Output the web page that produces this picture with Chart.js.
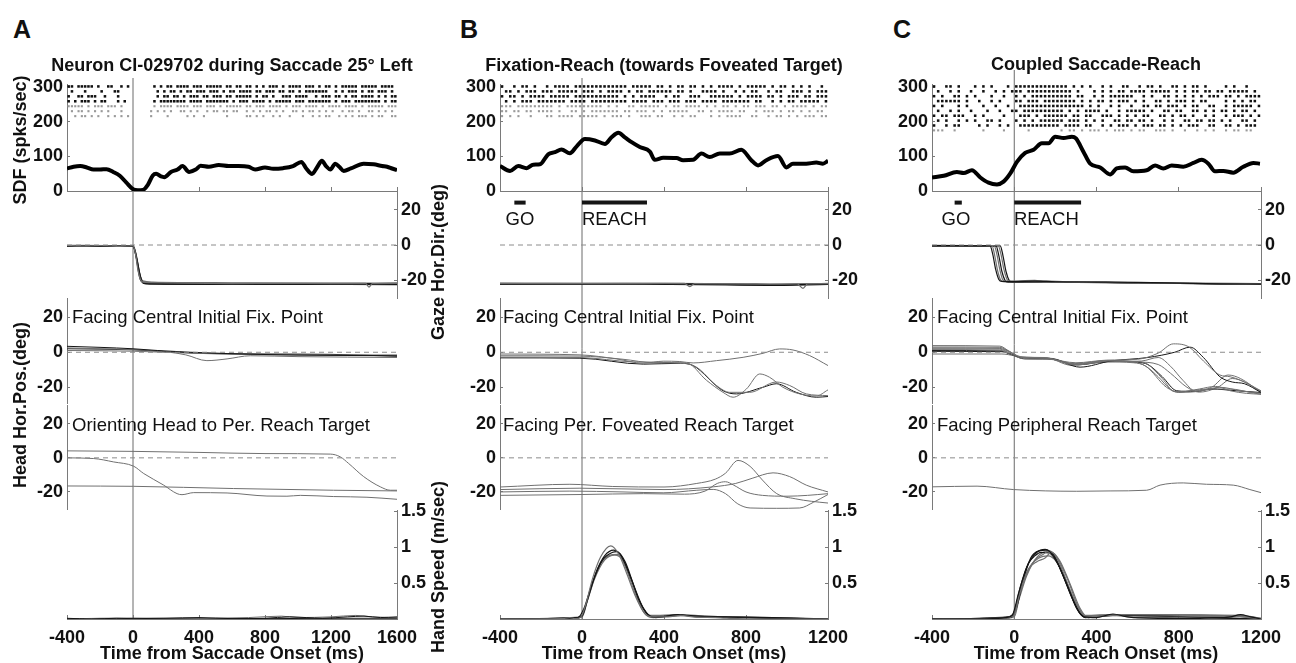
<!DOCTYPE html>
<html>
<head>
<meta charset="utf-8">
<script src="https://cdn.jsdelivr.net/npm/chart.js@4.4.1/dist/chart.umd.min.js"></script>
<style>
  body { margin: 0; background: #fff; width: 1296px; height: 663px; position: relative; overflow: hidden;
         font-family: "Liberation Sans", Arial, sans-serif; color: #111; }
  canvas { position: absolute; }
  .lbl { position: absolute; white-space: nowrap; line-height: 1; }
</style>
</head>
<body>
<script>
// ---- data (time in ms) ----
const xTicksA = [-400, 0, 400, 800, 1200, 1600];
const xTicksBC = [-400, 0, 400, 800, 1200];
const sdfTicks = [0, 100, 200, 300];
const degTicks = [-20, 0, 20];
const speedTicks = [0.5, 1, 1.5];

// spike density functions [t, spks/s]
const sdfA = [[-400,65],[-360,70],[-320,72],[-280,68],[-240,62],[-200,62],[-160,63],[-120,55],[-80,44],[-40,24],[0,5],[30,2],[60,3],[90,18],[120,45],[140,50],[170,42],[190,40],[230,55],[270,62],[300,72],[340,55],[380,62],[410,73],[460,70],[520,75],[580,72],[640,72],[700,70],[740,62],[800,68],[850,64],[910,66],[970,72],[1020,84],[1050,65],[1085,49],[1115,68],[1145,87],[1170,72],[1196,62],[1226,79],[1250,70],[1277,58],[1320,65],[1398,79],[1458,77],[1510,72],[1540,70],[1570,65],[1600,60]];
const sdfB = [[-400,72],[-351,58],[-311,72],[-270,66],[-238,76],[-205,77],[-165,106],[-132,112],[-100,120],[-59,109],[-26,129],[14,150],[63,146],[112,136],[144,155],[177,168],[209,155],[242,141],[282,127],[331,114],[355,90],[396,96],[461,95],[493,89],[542,90],[583,108],[623,98],[672,108],[720,108],[777,119],[826,89],[859,74],[899,89],[956,101],[997,68],[1029,79],[1094,79],[1143,82],[1175,79],[1200,87]];
const sdfC = [[-400,39],[-343,44],[-279,55],[-246,52],[-206,60],[-165,39],[-125,24],[-84,19],[-52,27],[-20,50],[13,84],[53,110],[94,119],[134,138],[167,138],[199,157],[240,153],[280,157],[300,152],[335,115],[369,79],[418,68],[466,48],[498,65],[539,68],[579,57],[644,60],[685,74],[725,65],[766,74],[822,70],[871,81],[911,90],[944,79],[976,57],[1017,58],[1065,53],[1114,70],[1163,81],[1195,79]];

// rasters: one string per trial, one char per 20 ms bin from -400 ms ('x' = spike)
const rasterA = [
  "xx.xxxxx.x ..xx..x.x. ......x.x. xx.xxxx.xx x.xxxxx.xx .xx.xx.x.x .xxx.x.xxx x.xxx.x.xx .x.xxxxx.x xxxx.xxxx.",
  ".x...x.... x...xx.... .......x.x .xx.x.xx.x xx.xxx.x.x x.xxxx.xx. xxx.xx.xx. x.xxxxxxx. .x.x.xxx.x .xx.xxx.x.",
  "x..xx.xxx. .x...x.... .......x.x x.xx.x.xxx .xx.xxx.xx .xxxxx.x.x x.x..xxx.x xxx..x.xxx .xx.x.xx.x xxx.x.x.xx",
  "x.x.xxx.x. xx...x.x.. ......x.xx xxxxxx.xxx x.xxxxxxx. x.xxx.xxxx .x.xxxxx.x xx.xxxxxxx .x.xxx.xxx xxxxx.x.xx",
  "xxxxx.x.xx x.xxx.x... ......x.xx xx.xxxx.xx x.xxx.x.xx xxx.xx.xxx .xxxx.x.xx x.xxxx.x.x xxx.xxxx.x .xxxxx.xxx",
  ".x.xx.x.x. x.x...x... .....x.x.x .x..xx.x.x ..x.xx.xx. xx..x.x.x. xx.x.x..xx .x.xx.x.x. x..x.xx.x. .xx.x.x.x.",
  "..x.xx.x.x ..x.x.x.x. .....x.... x.....x.x. .x......x. ....xx.x.x ..x.x..x.. .x..x.x.xx ..x.x.x.xx x.x.xx..xx"
];
const rasterB = [
  "x..x.xx.x. .x.xxxx.xx xxxxxxxxxx x.xxxxx.xx .x.xx.xx.x .x.xxxx.x. xxxxx.x.xx .x.x.x..x.",
  ".xx.x.xxx. xxx.xxxxx. xxx.x.xxxx .x.xx.xxxx xx.xx.x..x xxx.x..x.x .xx..x.xx. .xxx.x.xxx",
  "x.xx.x.xxx x.xxxxx.xx xxxxxxxxx. x.x.xxxx.. x.xx..xxx. .xxxxxx.x. xxxx.xx.x. xxx.xx.xxx",
  ".x.x.xxx.x xxxxxx.xxx x.xxxxxxxx x.xxxx.xxx .xxx.xxx.x xxx.xxxxxx x.xx..x.x. xx.xxxxx.x",
  "xxx.xxxxxx xxx.x.xxxx xxxxx.x.x. .xx.xxxxx. x.xx.xxxx. x.x.xx.x.x x.xxx.xx.x .xxxx.x.xx",
  "xx.xx.xx.x xxx.x..xx. x.xxxxxxx. xx.xxx.x.x .xxxxx..xx .x.xxxx.xx ..x.xxx.x. xx.x.x.xx.",
  "x.x.x..x.. .xx.xxxx.x xxxx.x.xxx .x..xxx.xx ..x.x.xx.. .x.x.xxxx. .xx..x.xx. x.x.xxx.xx"
];
const rasterC = [
  "x..xx.x... x.x.x...x. xxxxxxxxxx xxx.x.x.x. .x.x..xx.. x.xx.x..xx .x.xx.x... .x.x..x...",
  ".x..x.x..x ..x..x.x.x xx.xxxxxxx xxxx.x...x .x.x.xx.xx xx.xxxxx.x .x.xx.xx.x x.xxxxx.x.",
  "x.x..xx.x. x...x..x.. x.x.xxxxxx xxxx.xx..x .x.xxxxxx. .x.x..xx.x .x.x.x.xxx .xx.x.xxxx",
  ".xxxxxx.x. .x..x.x... xx.xxx.xxx xxxxx.x.x. xx.x.xxx.x .x..xx.x.x xx.x.xx... .x.x.x.xx.",
  "x.x...x.x. ..x..x..x. .xxxxxxxxx xxxxxxx.x. x..x.x..x. .xx.xx.xxx .x.xx..xx. .x.xxxxx.x",
  ".x..x.x..x ...x..x..x x.xxxxxxxx xx.x.x.xxx x.x..x.xxx xx.x..xx.x x..xx.x.x. xx.x.xx.x.",
  "x.xx.xxx.. x.x....x.. .xxx.x.xxx xxx.xx.xx. .xxx.x.x.x .xx..xx.x. xx.x..x.x. .x.xxx.x.x",
  ".x.x..x.x. x..xx.x... x.x.x.xxxx xx.xxx.x.x .x..xx.xx. xx.x..x.x. .xx.xx.xx. x.x..xx.x.",
  "x..x.xx... .x.x..x.x. .xxxxxxxxx x.xxxx.xx. .x.x.xxx.x .xxx.xx.x. x.xxx..xx. .xx.x.xxx.",
  "xxx..x.... ..x....x.. ...x...... .x.xx.x.xx x.x.xxx.x. xx..xxx.x. .x..x.x.x. .x.xx.xx.."
];

// gaze horizontal direction [t, deg]
const gazeA = [
  [[-400,-0.3],[-300,-0.6],[-200,-0.4],[-100,-0.7],[0,-0.5],[15,-5],[30,-14],[45,-19.5],[60,-21],[100,-21.3],[300,-21.6],[600,-21.8],[900,-21.7],[1200,-21.8],[1410,-21.8],[1430,-23.8],[1450,-21.9],[1600,-21.7]],
  [[-400,-0.6],[-200,-0.8],[0,-0.6],[20,-7],[35,-16],[50,-20.5],[70,-21.5],[400,-22],[800,-22.1],[1200,-22],[1600,-22.2]],
  [[-400,-0.8],[-200,-0.5],[0,-0.8],[25,-9],[45,-18],[65,-21.8],[100,-22.2],[500,-22.3],[1000,-22.1],[1600,-22]],
  [[-400,-0.2],[-150,-0.4],[0,-0.3],[15,-4],[30,-12],[45,-18.5],[60,-20.3],[120,-21],[600,-21.4],[1200,-21.6],[1600,-21.5]],
  [[-400,-0.5],[0,-0.4],[20,-6],[40,-16],[55,-20.5],[80,-21.7],[700,-22],[1600,-22.4]]
];
const gazeB = [
  [[-400,-21.8],[0,-21.9],[400,-21.7],[500,-21.8],[526,-23.5],[550,-21.9],[900,-22.2],[1050,-22],[1078,-24.5],[1100,-22],[1200,-21.9]],
  [[-400,-22.1],[300,-22.2],[700,-22.6],[900,-22.8],[1200,-22.3]],
  [[-400,-22.3],[400,-22],[800,-22.4],[1200,-22.1]],
  [[-400,-21.6],[300,-21.7],[850,-22],[950,-22.6],[1200,-21.8]]
];
const gazeC = [
  [[-400,-0.3],[-200,-0.5],[-118,-0.4],[-105,-5],[-90,-14],[-75,-19.5],[-60,-20.6],[0,-20.7],[100,-20.4],[200,-20.8],[400,-21],[600,-21.2],[800,-21.6],[1000,-22],[1200,-22.1]],
  [[-400,-0.5],[-200,-0.6],[-108,-0.5],[-95,-6],[-80,-15],[-65,-20],[-50,-20.8],[0,-20.9],[200,-21],[500,-21.2],[800,-21.8],[1200,-22.3]],
  [[-400,-0.2],[-98,-0.4],[-85,-5],[-70,-14],[-55,-19.8],[-40,-20.5],[100,-20],[150,-20.8],[400,-21.2],[900,-21.8],[1200,-22]],
  [[-400,-0.6],[-88,-0.6],[-75,-6],[-60,-15],[-45,-20],[-30,-21],[200,-20.8],[600,-21.5],[1200,-22.2]],
  [[-400,-0.4],[-78,-0.5],[-65,-5],[-50,-14],[-35,-19.5],[-20,-20.6],[80,-20.2],[300,-21],[1200,-21.8]],
  [[-400,-0.5],[-68,-0.5],[-55,-6],[-40,-15],[-25,-20],[-10,-21],[300,-21.2],[700,-21.5],[1200,-22.2]]
];

// GO / REACH epochs [start, end] in ms
const goB = [-330, -275], reachB = [0, 317];
const goC = [-290, -255], reachC = [0, 325];

// head horizontal position, facing central point [t, deg]
const headCenA = [
  [[-400,3.4],[-200,2.8],[0,2],[150,1],[350,0],[800,-1.3],[1200,-1.8],[1600,-2]],
  [[-400,2.5],[-200,2],[0,1.5],[200,0.3],[320,-1.5],[448,-4.8],[570,-3.8],[711,-2],[1000,-2.5],[1600,-3]],
  [[-400,1],[0,0.6],[300,-0.4],[700,-1.3],[1200,-1.6],[1600,-1.5]],
  [[-400,2],[0,1.4],[400,-0.6],[800,-1.0],[1200,-1.2],[1600,-2.3]]
];
const headCenB = [
  [[-400,-1],[-10,-1.5],[168,-3.8],[298,-6.3],[396,-5.1],[477,-5.3],[542,-6.1],[656,-4.8],[786,-2.9],[883,-0.6],[964,1.9],[1029,1.3],[1110,-1.9],[1200,-7.6]],
  [[-400,-2],[-10,-2.2],[200,-4],[350,-6],[509,-6.1],[607,-16],[688,-22.9],[737,-25.7],[802,-21],[867,-12.4],[915,-14.3],[980,-20],[1062,-23.8],[1143,-25],[1200,-21.5]],
  [[-400,-2.8],[-10,-3],[250,-5.5],[450,-6],[558,-8.5],[656,-19],[721,-22.9],[818,-22.9],[948,-17],[1013,-19],[1094,-23.8],[1200,-24.8]],
  [[-400,-3.2],[-10,-3.4],[300,-6.8],[480,-6.3],[542,-7.6],[688,-22],[753,-23.8],[883,-20],[948,-18],[1045,-22.9],[1143,-25.7],[1200,-25.3]]
];
const headCenC = [
  [[-400,3.8],[-70,3.5],[-30,1],[30,-2.5],[150,-3.2],[300,-6.8],[450,-5],[580,-5.5],[640,-8],[700,-14],[758,-21],[800,-23],[900,-22.2],[1000,-20],[1100,-22],[1200,-23.5]],
  [[-400,2.5],[-70,2.2],[-20,0],[40,-3],[160,-3.5],[290,-7],[460,-4.8],[590,-5.2],[650,-7],[720,-15],[780,-22.5],[850,-22],[950,-21],[1050,-21],[1150,-23],[1200,-24]],
  [[-400,1.5],[-70,1.2],[-20,-1],[40,-3.5],[170,-4],[300,-6],[450,-4.5],[600,-4],[700,-0.5],[774,4.8],[850,3],[920,-5],[1000,-13],[1050,-14],[1100,-16],[1200,-22]],
  [[-400,0.5],[-60,0.3],[-10,-1.5],[50,-3.8],[180,-3.8],[320,-8.5],[470,-5],[650,-3],[780,0],[855,2.9],[920,-3],[1000,-14],[1060,-17],[1120,-18],[1200,-23]],
  [[-400,3],[-70,2.8],[-25,0.5],[30,-2.8],[150,-3],[280,-7.5],[440,-5.5],[580,-6],[640,-8],[740,-20],[800,-22.8],[900,-21],[980,-19.5],[1050,-22],[1130,-23.5],[1200,-24]],
  [[-400,-1],[-60,-1],[0,-2],[60,-3.5],[170,-3.4],[300,-7],[450,-5.5],[620,-5],[700,-3],[760,-8],[820,-16],[880,-22],[960,-20],[1040,-13],[1100,-15],[1200,-23]],
  [[-400,1],[-65,0.8],[-15,-1.2],[45,-3.2],[160,-3.6],[310,-7.2],[460,-5.2],[600,-5.8],[650,-7],[720,-14],[790,-22],[880,-22.5],[960,-21],[1080,-22],[1200,-23]],
  [[-400,2],[-70,1.8],[-20,-0.5],[35,-3],[150,-3.3],[295,-6.5],[450,-4.8],[600,-5.5],[700,-7],[760,-12],[840,-20],[900,-22.8],[990,-20],[1060,-15],[1120,-17],[1200,-22.5]]
];

// head horizontal position, facing peripheral target [t, deg]
const headPerA = [
  [[-400,4.1],[0,3.8],[400,3.2],[800,2.5],[1196,2.2],[1256,0.6],[1307,-3.3],[1398,-11],[1499,-17],[1560,-19],[1600,-19]],
  [[-400,0],[-238,-0.4],[-117,-2.4],[4,-4.9],[65,-9.2],[186,-16],[267,-21],[297,-21.6],[368,-20.4],[570,-20.6],[812,-22.4],[933,-22.5],[1014,-22],[1216,-22.7],[1418,-23.1],[1600,-24.3]],
  [[-400,-16.5],[4,-16.7],[610,-18],[1216,-19],[1600,-19.4]]
];
const headPerB = [
  [[-400,-17.1],[-59,-15.5],[150,-16.8],[400,-17.1],[560,-15],[650,-12.5],[700,-9],[761,-1.5],[820,-5],[880,-13],[950,-21],[1040,-24],[1120,-25.5],[1200,-26.5]],
  [[-400,-18.6],[-10,-17.8],[400,-18.6],[640,-17],[750,-15],[830,-12],[932,-8.8],[1013,-11],[1094,-16],[1200,-20]],
  [[-400,-20],[-59,-19.5],[200,-20],[396,-20.5],[560,-19],[640,-18.5],[700,-21],[760,-27],[820,-29.4],[950,-29.6],[1062,-29.4],[1130,-26],[1200,-21.5]],
  [[-400,-22],[0,-21.5],[300,-21],[500,-21.3],[600,-19.5],[660,-15],[700,-14],[740,-16],[800,-20],[880,-22],[1000,-22.5],[1100,-22],[1200,-21]]
];
const headPerC = [
  [[-400,-17],[-181,-16.6],[-3,-18.6],[304,-19.6],[466,-19.4],[644,-19],[709,-16],[822,-14.7],[935,-15.5],[1065,-16],[1146,-18.6],[1200,-20.4]]
];

// hand speed [t, m/s]
const speedA = [
  [[-400,0.01],[-250,0],[-100,0.01],[0,0.005],[200,0.01],[400,0.02],[600,0.005],[800,0.01],[950,0.03],[1050,0.02],[1150,0.01],[1300,0.03],[1400,0.04],[1500,0.02],[1600,0.03]],
  [[-400,0],[-200,0.01],[0,0.01],[300,0],[500,0.01],[700,0.02],[900,0.04],[1000,0.02],[1200,0.03],[1350,0.05],[1450,0.03],[1600,0.02]],
  [[-400,0.005],[0,0.01],[400,0.01],[800,0.005],[1200,0.01],[1600,0.01]]
];
const speedB = [
  [[-400,0],[-100,0.005],[-60,0.02],[-30,0.005],[-5,0.03],[20,0.22],[50,0.55],[90,0.86],[140,1.02],[180,0.9],[220,0.62],[260,0.32],[300,0.1],[340,0.03],[420,0.03],[480,0.05],[540,0.03],[650,0.02],[800,0],[1200,0]],
  [[-400,0],[-50,0.01],[0,0.04],[30,0.3],[70,0.66],[110,0.88],[155,0.96],[195,0.86],[240,0.56],[280,0.25],[320,0.06],[360,0.02],[470,0.06],[560,0.03],[700,0.03],[1200,0]],
  [[-400,0],[-20,0.02],[10,0.15],[50,0.5],[100,0.82],[150,0.93],[170,0.94],[210,0.8],[255,0.45],[300,0.15],[345,0.03],[500,0.05],[620,0.03],[1200,0]],
  [[-400,0],[-10,0.02],[20,0.2],[60,0.55],[110,0.82],[160,0.89],[200,0.82],[240,0.55],[285,0.22],[330,0.05],[480,0.06],[600,0.04],[720,0.03],[1200,0]],
  [[-400,0],[0,0.03],[30,0.3],[80,0.72],[130,0.88],[175,0.9],[215,0.7],[260,0.35],[305,0.08],[350,0.02],[450,0.05],[700,0.03],[1200,0]]
];
const speedC = [
  [[-400,0],[-100,0.005],[-40,0.02],[-10,0.05],[20,0.35],[60,0.72],[110,0.93],[150,0.97],[200,0.84],[250,0.52],[300,0.18],[340,0.03],[400,0.02],[480,0.07],[550,0.03],[700,0.01],[900,0.01],[1050,0.03],[1100,0.06],[1150,0.03],[1200,0]],
  [[-400,0],[-60,0.01],[-10,0.04],[20,0.3],[60,0.62],[100,0.82],[140,0.9],[170,0.95],[210,0.85],[260,0.55],[310,0.18],[350,0.03],[480,0.05],[600,0.02],[1100,0.04],[1200,0.01]],
  [[-400,0],[-50,0.01],[0,0.06],[30,0.4],[70,0.7],[110,0.8],[150,0.85],[180,0.93],[220,0.82],[270,0.5],[320,0.15],[360,0.02],[490,0.06],[1100,0.03],[1200,0]],
  [[-400,0],[-20,0.02],[10,0.15],[40,0.5],[80,0.85],[120,0.95],[155,0.96],[190,0.9],[235,0.62],[280,0.3],[320,0.08],[360,0.02],[500,0.05],[1200,0]],
  [[-400,0],[-30,0.03],[0,0.1],[30,0.45],[70,0.78],[100,0.88],[130,0.93],[170,0.92],[215,0.75],[260,0.45],[305,0.14],[345,0.02],[470,0.05],[1200,0]],
  [[-400,0],[-10,0.02],[20,0.25],[60,0.6],[110,0.86],[160,0.94],[200,0.88],[245,0.6],[290,0.25],[330,0.05],[460,0.06],[1080,0.04],[1200,0]],
  [[-400,0],[0,0.03],[30,0.38],[70,0.7],[120,0.85],[165,0.88],[205,0.8],[250,0.55],[300,0.22],[345,0.04],[500,0.06],[1100,0.05],[1200,0.01]]
];

// ---- drawing ----
Chart.defaults.font.family = '"Liberation Sans", Arial, sans-serif';
const AXIS = '#7a7a7a';
const GREY = '#707070';
const DARK = '#151515';
const AXW = 50, XH = 44, M = 16;

// plot-area pixel boxes
const cols = [
  { x0: 67, x1: 397, xMax: 1600, xTicks: xTicksA, vTop: 78 },
  { x0: 500, x1: 828, xMax: 1200, xTicks: xTicksBC, vTop: 78 },
  { x0: 932, x1: 1261, xMax: 1200, xTicks: xTicksBC, vTop: 70 }
];
const rows = {
  sdf:   { y0: 84,  y1: 191, min: 0,   max: 309 },
  gaze:  { y0: 192, y1: 298, min: -30, max: 30 },
  headC: { y0: 298, y1: 403, min: -29, max: 31 },
  headP: { y0: 405, y1: 509, min: -30, max: 31 },
  speed: { y0: 510, y1: 619, min: 0,   max: 1.52 }
};

function line(pts, color, width) {
  return {
    data: pts.map(([x, y]) => ({ x, y })),
    borderColor: color, borderWidth: width || 1, pointRadius: 0,
    cubicInterpolationMode: 'monotone', fill: false
  };
}
function zeroLine(xMax) {
  return { data: [{ x: -400, y: 0 }, { x: xMax, y: 0 }], borderColor: '#8c8c8c',
           borderWidth: 1, borderDash: [5, 4], pointRadius: 0 };
}
function bar(span, y) {
  return { data: [{ x: span[0], y }, { x: span[1], y }], borderColor: DARK, borderWidth: 4,
           pointRadius: 0, borderCapStyle: 'butt' };
}
function raster(strs, yTop, yStep, nBlack) {
  return strs.map((s, r) => {
    const pts = [];
    s.replace(/ /g, '').split('').forEach((c, i) => {
      if (c === 'x') pts.push({ x: -400 + i * 20 + 10, y: yTop - r * yStep });
    });
    const black = r < nBlack;
    return { data: pts, showLine: false, pointStyle: 'rect', borderWidth: 0,
             pointRadius: black ? 1.8 : 1.5, backgroundColor: black ? '#111' : '#9a9a9a' };
  });
}

function addChart(col, row, yPos, yTicks, xMode, datasets) {
  const canvas = document.createElement('canvas');
  const bottomM = xMode === 'labels' ? XH : M;
  canvas.width = col.x1 - col.x0 + 2 * AXW;
  canvas.height = row.y1 - row.y0 + M + bottomM;
  canvas.style.left = (col.x0 - AXW) + 'px';
  canvas.style.top = (row.y0 - M) + 'px';
  document.body.appendChild(canvas);
  const font = { size: 18, weight: 'bold' };
  const noPad = s => { s.paddingLeft = 0; s.paddingRight = 0; s.paddingTop = 0; s.paddingBottom = 0; };
  new Chart(canvas, {
    type: 'line',
    data: { datasets },
    options: {
      responsive: false, animation: false, devicePixelRatio: 1,
      layout: { padding: {
        left: yPos === 'left' ? 0 : AXW, right: yPos === 'right' ? 0 : AXW,
        top: M, bottom: xMode === 'labels' ? 0 : M } },
      plugins: { legend: { display: false }, tooltip: { enabled: false } },
      scales: {
        x: {
          type: 'linear', min: -400, max: col.xMax, display: !!xMode,
          afterFit: s => { s.height = xMode === 'labels' ? XH : 0; noPad(s); },
          afterBuildTicks: s => { s.ticks = col.xTicks.map(v => ({ value: v })); },
          border: { display: true, color: AXIS, width: 1 },
          grid: { drawOnChartArea: false, tickLength: -4, color: AXIS },
          ticks: { display: xMode === 'labels', padding: 12, color: '#111', font, maxRotation: 0,
                   callback: v => String(v) }
        },
        y: {
          type: 'linear', min: row.min, max: row.max, position: yPos || 'left', display: !!yPos,
          afterFit: s => { s.width = yPos ? AXW : 0; noPad(s); },
          afterBuildTicks: s => { s.ticks = (yTicks || []).map(v => ({ value: v })); },
          border: { display: true, color: AXIS, width: 1 },
          grid: { drawOnChartArea: false, tickLength: -3, color: AXIS },
          ticks: { padding: 7, color: '#111', font, callback: v => String(v) }
        }
      }
    }
  });
}

function addOnsetLine(col) {
  addChart(col, { y0: col.vTop, y1: 619, min: 0, max: 1 }, null, null, null,
    [{ data: [{ x: 0, y: 0 }, { x: 0, y: 1 }], borderColor: '#6a6a6a', borderWidth: 1, pointRadius: 0 }]);
}

const traces = (list, colors, w) => list.map((p, i) => line(p, colors[i % colors.length], w));

// column A
addOnsetLine(cols[0]);
addChart(cols[0], rows.sdf, 'left', sdfTicks, 'ticks',
  [...raster(rasterA, 302, 14.3, 4), line(sdfA, '#000', 4)]);
addChart(cols[0], rows.gaze, 'right', degTicks, null,
  [zeroLine(1600), ...traces(gazeA, [GREY, DARK, DARK, GREY, DARK], 1.3)]);
addChart(cols[0], rows.headC, 'left', degTicks, null,
  [zeroLine(1600), ...traces(headCenA, [DARK, GREY, GREY, DARK])]);
addChart(cols[0], rows.headP, 'left', degTicks, null,
  [zeroLine(1600), ...traces(headPerA, [GREY])]);
addChart(cols[0], rows.speed, 'right', speedTicks, 'labels',
  traces(speedA, [DARK, GREY, DARK]));

// column B
addOnsetLine(cols[1]);
addChart(cols[1], rows.sdf, 'left', sdfTicks, 'ticks',
  [...raster(rasterB, 302, 14.3, 4), line(sdfB, '#000', 4)]);
addChart(cols[1], rows.gaze, 'right', degTicks, null,
  [zeroLine(1200), bar(goB, 24), bar(reachB, 24), ...traces(gazeB, [GREY, DARK, DARK, GREY], 1.3)]);
addChart(cols[1], rows.headC, 'left', degTicks, null,
  [zeroLine(1200), ...traces(headCenB, [GREY, GREY, GREY, DARK])]);
addChart(cols[1], rows.headP, 'left', degTicks, null,
  [zeroLine(1200), ...traces(headPerB, [GREY])]);
addChart(cols[1], rows.speed, 'right', speedTicks, 'labels',
  traces(speedB, [GREY, DARK, DARK, GREY, GREY], 1.2));

// column C
addOnsetLine(cols[2]);
addChart(cols[2], rows.sdf, 'left', sdfTicks, 'ticks',
  [...raster(rasterC, 302, 14.1, 9), line(sdfC, '#000', 4)]);
addChart(cols[2], rows.gaze, 'right', degTicks, null,
  [zeroLine(1200), bar(goC, 24), bar(reachC, 24), ...traces(gazeC, [DARK, GREY, GREY, DARK, GREY, DARK], 1.2)]);
addChart(cols[2], rows.headC, 'left', degTicks, null,
  [zeroLine(1200), ...traces(headCenC, [GREY, GREY, GREY, DARK, GREY, GREY, DARK, GREY])]);
addChart(cols[2], rows.headP, 'left', degTicks, null,
  [zeroLine(1200), ...traces(headPerC, [GREY])]);
addChart(cols[2], rows.speed, 'right', speedTicks, 'labels',
  traces(speedC, [DARK, GREY, GREY, DARK, DARK, GREY, GREY], 1.2));

// ---- text ----
const texts = [
  { t: 'A', x: 22, y: 29, size: 25, bold: true, mode: 'c' },
  { t: 'B', x: 469, y: 29, size: 25, bold: true, mode: 'c' },
  { t: 'C', x: 902, y: 29, size: 25, bold: true, mode: 'c' },
  { t: 'Neuron CI-029702 during Saccade 25\u00b0 Left', x: 232, y: 65, size: 18, bold: true, mode: 'c' },
  { t: 'Fixation-Reach (towards Foveated Target)', x: 664, y: 65, size: 18, bold: true, mode: 'c' },
  { t: 'Coupled Saccade-Reach', x: 1096, y: 64, size: 18, bold: true, mode: 'c' },
  { t: 'Time from Saccade Onset (ms)', x: 232, y: 653, size: 18, bold: true, mode: 'c' },
  { t: 'Time from Reach Onset (ms)', x: 664, y: 653, size: 18, bold: true, mode: 'c' },
  { t: 'Time from Reach Onset (ms)', x: 1096, y: 653, size: 18, bold: true, mode: 'c' },
  { t: 'SDF (spks/sec)', x: 20, y: 140, size: 18, bold: true, mode: 'r' },
  { t: 'Head Hor.Pos.(deg)', x: 20, y: 405, size: 18, bold: true, mode: 'r' },
  { t: 'Gaze Hor.Dir.(deg)', x: 438, y: 262, size: 18, bold: true, mode: 'r' },
  { t: 'Hand Speed (m/sec)', x: 438, y: 567, size: 18, bold: true, mode: 'r' },
  { t: 'Facing Central Initial Fix. Point', x: 72, y: 317, size: 18.5, mode: 'l' },
  { t: 'Orienting Head to Per. Reach Target', x: 72, y: 425, size: 18.5, mode: 'l' },
  { t: 'Facing Central Initial Fix. Point', x: 503, y: 317, size: 18.5, mode: 'l' },
  { t: 'Facing Per. Foveated Reach Target', x: 503, y: 425, size: 18.5, mode: 'l' },
  { t: 'Facing Central Initial Fix. Point', x: 937, y: 317, size: 18.5, mode: 'l' },
  { t: 'Facing Peripheral Reach Target', x: 937, y: 425, size: 18.5, mode: 'l' },
  { t: 'GO', x: 520, y: 219, size: 18.5, mode: 'c' },
  { t: 'REACH', x: 582, y: 219, size: 18.5, mode: 'l' },
  { t: 'GO', x: 956, y: 219, size: 18.5, mode: 'c' },
  { t: 'REACH', x: 1014, y: 219, size: 18.5, mode: 'l' }
];
texts.forEach(d => {
  const el = document.createElement('div');
  el.className = 'lbl';
  el.textContent = d.t;
  el.style.left = d.x + 'px';
  el.style.top = d.y + 'px';
  el.style.fontSize = d.size + 'px';
  el.style.fontWeight = d.bold ? 'bold' : 'normal';
  el.style.transform = d.mode === 'l' ? 'translate(0,-50%)'
    : d.mode === 'r' ? 'translate(-50%,-50%) rotate(-90deg)' : 'translate(-50%,-50%)';
  document.body.appendChild(el);
});
</script>
</body>
</html>
